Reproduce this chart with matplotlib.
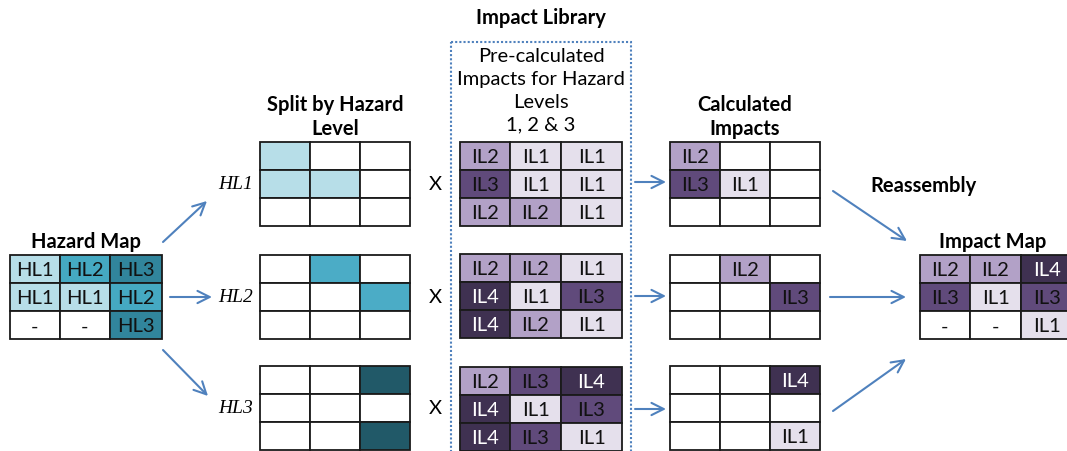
import matplotlib
matplotlib.use("Agg")
import matplotlib.pyplot as plt
from matplotlib.patches import Rectangle

# ---- data ----
levels = ["HL1", "HL2", "HL3"]
hazard_map = [["HL1", "HL2", "HL3"],
              ["HL1", "HL1", "HL2"],
              ["-", "-", "HL3"]]
library_hl1 = [["IL2", "IL1", "IL1"],
               ["IL3", "IL1", "IL1"],
               ["IL2", "IL2", "IL1"]]
library_hl2 = [["IL2", "IL2", "IL1"],
               ["IL4", "IL1", "IL3"],
               ["IL4", "IL2", "IL1"]]
library_hl3 = [["IL2", "IL3", "IL4"],
               ["IL4", "IL1", "IL3"],
               ["IL4", "IL3", "IL1"]]
libraries = [library_hl1, library_hl2, library_hl3]

# ---- styles ----
hazard_colors = {"HL1": "#b7dee8", "HL2": "#45a9c2", "HL3": "#31859c", "-": "white"}
split_colors = {"HL1": "#b7dee8", "HL2": "#4bacc6", "HL3": "#215968"}
impact_colors = {"IL1": "#e5e0ec", "IL2": "#b2a1c7", "IL3": "#604a7b", "IL4": "#3f3151", "-": "white"}
text_colors = {"IL4": "white"}
arrow_color = "#4f81bd"
FONT = "Lato"
CELL_FS = 14.5
TITLE_FS = 14.5

W, H = 1067, 452
fig = plt.figure(figsize=(W / 100, H / 100), dpi=100)
ax = fig.add_axes([0, 0, 1, 1])
ax.set_xlim(0, W)
ax.set_ylim(H, 0)
ax.axis("off")

RH = 28


def draw_grid(x0, y0, widths, fills, labels=None, tcolors=None):
    for r in range(3):
        x = x0
        for c in range(3):
            w = widths[c]
            ax.add_patch(Rectangle((x, y0 + r * RH), w, RH, facecolor=fills[r][c],
                                   edgecolor="#1a1a1a", lw=1.3, zorder=2))
            if labels is not None and labels[r][c]:
                tc = (tcolors or {}).get(labels[r][c], "#111111")
                ax.text(x + w / 2, y0 + r * RH + RH / 2 + 1, labels[r][c], ha="center",
                        va="center", fontsize=CELL_FS, family=FONT, color=tc, zorder=3)
            x += w


def arrow(x1, y1, x2, y2):
    ax.annotate("", xy=(x2, y2), xytext=(x1, y1),
                arrowprops=dict(arrowstyle="->", color=arrow_color, lw=1.5,
                                mutation_scale=22, shrinkA=0, shrinkB=0))


# Hazard map
draw_grid(10, 256, [50, 50, 52],
          [[hazard_colors[v] for v in row] for row in hazard_map], hazard_map)
ax.text(86, 242, "Hazard Map", ha="center", va="center", fontsize=TITLE_FS,
        fontweight="bold", family=FONT)

# Split by hazard level
split_y = [143, 256, 367]
for i, lev in enumerate(levels):
    fills = [[split_colors[lev] if v == lev else "white" for v in row] for row in hazard_map]
    draw_grid(260, split_y[i], [50, 50, 50], fills)
    ax.text(253, split_y[i] + 1.5 * RH, lev, ha="right", va="center", fontsize=14,
            family="Liberation Serif", style="italic")
    ax.text(435, split_y[i] + 1.5 * RH, "X", ha="center", va="center", fontsize=CELL_FS,
            family=FONT)
ax.text(335, 117, "Split by Hazard\nLevel", ha="center", va="center", fontsize=TITLE_FS,
        fontweight="bold", family=FONT, linespacing=1.3)

# Impact library
lib_y = [143, 255, 368]
for i, lib in enumerate(libraries):
    draw_grid(460, lib_y[i], [50, 51, 61],
              [[impact_colors[v] for v in row] for row in lib], lib, text_colors)
ax.add_patch(Rectangle((451, 43), 180, 420, facecolor="none", edgecolor=arrow_color,
                       lw=1.5, linestyle=(0, (1, 1)), zorder=1))
ax.text(541, 18, "Impact Library", ha="center", va="center", fontsize=TITLE_FS,
        fontweight="bold", family=FONT)
ax.text(541, 91, "Pre-calculated\nImpacts for Hazard\nLevels\n1, 2 & 3", ha="center",
        va="center", fontsize=CELL_FS, family=FONT, linespacing=1.42)

# Calculated impacts
calc_y = [143, 256, 367]
for i, lev in enumerate(levels):
    lab = [[libraries[i][r][c] if hazard_map[r][c] == lev else "" for c in range(3)]
           for r in range(3)]
    fills = [[impact_colors[v] if v else "white" for v in row] for row in lab]
    draw_grid(670, calc_y[i], [50, 50, 50], fills, lab, text_colors)
    ya = lib_y[i] + 1.5 * RH - (2 if i == 0 else 0)
    arrow(635, ya, 666, ya)
ax.text(745, 117, "Calculated\nImpacts", ha="center", va="center", fontsize=TITLE_FS,
        fontweight="bold", family=FONT, linespacing=1.3)

# Impact map (reassembled)
impact_map = [[hazard_map[r][c] if hazard_map[r][c] == "-" else
               libraries[levels.index(hazard_map[r][c])][r][c] for c in range(3)]
              for r in range(3)]
draw_grid(920, 256, [50, 51, 52],
          [[impact_colors[v] for v in row] for row in impact_map], impact_map, text_colors)
ax.text(993, 242, "Impact Map", ha="center", va="center", fontsize=TITLE_FS,
        fontweight="bold", family=FONT)
ax.text(924, 186, "Reassembly", ha="center", va="center", fontsize=TITLE_FS,
        fontweight="bold", family=FONT)

# Arrows: hazard map -> split
arrow(163, 243, 207, 202)
arrow(170, 298, 212, 298)
arrow(163, 351, 208, 397)
# Calculated -> impact map
arrow(833, 192, 907, 242)
arrow(830, 298, 906, 298)
arrow(833, 412, 906, 360)

fig.savefig("out.png", dpi=100)
